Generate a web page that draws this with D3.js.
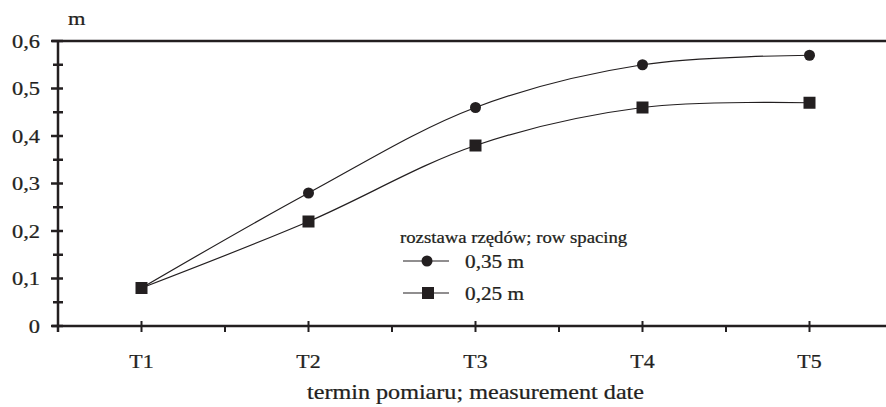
<!DOCTYPE html>
<html>
<head>
<meta charset="utf-8">
<script src="https://cdn.jsdelivr.net/npm/d3@7"></script>
<style>
  body { margin: 0; background: #fff; }
</style>
</head>
<body>
<div id="chart"></div>
<script>
// data
const categories = ["T1", "T2", "T3", "T4", "T5"];
const spacing035 = [0.08, 0.28, 0.46, 0.55, 0.57];
const spacing025 = [0.08, 0.22, 0.38, 0.46, 0.47];
const seriesNames = ["0,35 m", "0,25 m"];
const yTicks = [0, 0.1, 0.2, 0.3, 0.4, 0.5, 0.6];
const yMinorTicks = [0.05, 0.15, 0.25, 0.35, 0.45, 0.55];
const legendTitle = "rozstawa rzędów; row spacing";
const xTitle = "termin pomiaru; measurement date";
const yUnit = "m";

const ink = "#231f20";
const stretch = 1.15; // the type in the source is set a bit wide
const width = 886, height = 407;
const margin = {top: 41, left: 58, bottom: 81};

const svg = d3.select("#chart").append("svg")
    .attr("width", width)
    .attr("height", height)
    .attr("font-family", "'Liberation Serif', 'DejaVu Serif', serif")
    .style("display", "block");

// text helper: anchor at (x,y), widened horizontally
const addText = (parent, x, y, size, anchor, str) =>
    parent.append("text")
        .attr("transform", "translate(" + x + "," + y + ") scale(" + stretch + ",1)")
        .attr("text-anchor", anchor)
        .attr("font-size", size)
        .attr("fill", ink)
        .attr("stroke", ink)
        .attr("stroke-width", 0.25)
        .text(str);

// band scale, one band is ~167px wide, last band runs out of the frame
const xScale = d3.scaleBand().domain(categories).range([margin.left, margin.left + 5 * 167]);
const yScale = d3.scaleLinear().domain([0, 0.6]).range([height - margin.bottom, margin.top]);
const xMid = c => xScale(c) + xScale.bandwidth() / 2;
const y0 = yScale(0);

// top frame line
svg.append("line")
    .attr("x1", margin.left - 6).attr("x2", width)
    .attr("y1", yScale(0.6)).attr("y2", yScale(0.6))
    .attr("stroke", ink).attr("stroke-width", 2.5);

// y axis
const yAxisG = svg.append("g").attr("class", "yAxisG");
yAxisG.append("line")
    .attr("x1", margin.left).attr("x2", margin.left)
    .attr("y1", yScale(0.6)).attr("y2", y0 + 6)
    .attr("stroke", ink).attr("stroke-width", 2.5);
yAxisG.selectAll(".major").data(yTicks).join("line")
    .attr("class", "major")
    .attr("x1", margin.left - 7).attr("x2", margin.left + 5)
    .attr("y1", d => yScale(d)).attr("y2", d => yScale(d))
    .attr("stroke", ink).attr("stroke-width", 2.5);
yAxisG.selectAll(".minor").data(yMinorTicks).join("line")
    .attr("class", "minor")
    .attr("x1", margin.left - 5).attr("x2", margin.left + 5)
    .attr("y1", d => yScale(d)).attr("y2", d => yScale(d))
    .attr("stroke", ink).attr("stroke-width", 2.5);
yTicks.forEach(d => {
    const label = d === 0 ? "0" : d3.format(".1f")(d).replace(".", ",");
    addText(yAxisG, 40, yScale(d) + 6.5, 19.5, "end", label);
});

addText(svg, 68, 25, 19.5, "start", yUnit);

// x axis
const xAxisG = svg.append("g").attr("class", "xAxisG");
xAxisG.append("line")
    .attr("x1", margin.left - 6).attr("x2", width)
    .attr("y1", y0).attr("y2", y0)
    .attr("stroke", ink).attr("stroke-width", 2.5);
// ticks on category centres cross the axis
xAxisG.selectAll(".mid").data(categories).join("line")
    .attr("class", "mid")
    .attr("x1", d => xMid(d)).attr("x2", d => xMid(d))
    .attr("y1", y0 - 5).attr("y2", y0 + 6)
    .attr("stroke", ink).attr("stroke-width", 2);
// ticks on band edges point down
xAxisG.selectAll(".edge").data(categories.slice(1)).join("line")
    .attr("class", "edge")
    .attr("x1", d => xScale(d)).attr("x2", d => xScale(d))
    .attr("y1", y0).attr("y2", y0 + 6)
    .attr("stroke", ink).attr("stroke-width", 2);
categories.forEach(c => addText(xAxisG, xMid(c), 368, 19, "middle", c));

addText(svg, xMid("T3"), 399, 21, "middle", xTitle);

// lines
const line = d3.line()
    .x((d, i) => xMid(categories[i]))
    .y(d => yScale(d))
    .curve(d3.curveCatmullRom.alpha(0.5));

[spacing035, spacing025].forEach(vals => {
    svg.append("path")
        .datum(vals)
        .attr("d", line)
        .attr("fill", "none")
        .attr("stroke", ink)
        .attr("stroke-width", 1.2);
});

// markers
svg.selectAll(".circ").data(spacing035).join("circle")
    .attr("class", "circ")
    .attr("cx", (d, i) => xMid(categories[i]))
    .attr("cy", d => yScale(d))
    .attr("r", 5.5)
    .attr("fill", ink);
svg.selectAll(".sq").data(spacing025).join("rect")
    .attr("class", "sq")
    .attr("x", (d, i) => xMid(categories[i]) - 6)
    .attr("y", d => yScale(d) - 6)
    .attr("width", 12).attr("height", 12)
    .attr("fill", ink);

// legend
const legend = svg.append("g").attr("class", "legend");
addText(legend, 400, 243, 16.3, "start", legendTitle);
const rows = [{y: 261, shape: "circle"}, {y: 293, shape: "rect"}];
rows.forEach((r, i) => {
    legend.append("line")
        .attr("x1", 403).attr("x2", 449)
        .attr("y1", r.y).attr("y2", r.y)
        .attr("stroke", ink).attr("stroke-width", 1.2);
    if (r.shape === "circle") {
        legend.append("circle").attr("cx", 427).attr("cy", r.y).attr("r", 5.5).attr("fill", ink);
    } else {
        legend.append("rect").attr("x", 422).attr("y", r.y - 6)
            .attr("width", 12).attr("height", 12).attr("fill", ink);
    }
    addText(legend, 465, r.y + 6.5, 18.5, "start", seriesNames[i]);
});
</script>
</body>
</html>
